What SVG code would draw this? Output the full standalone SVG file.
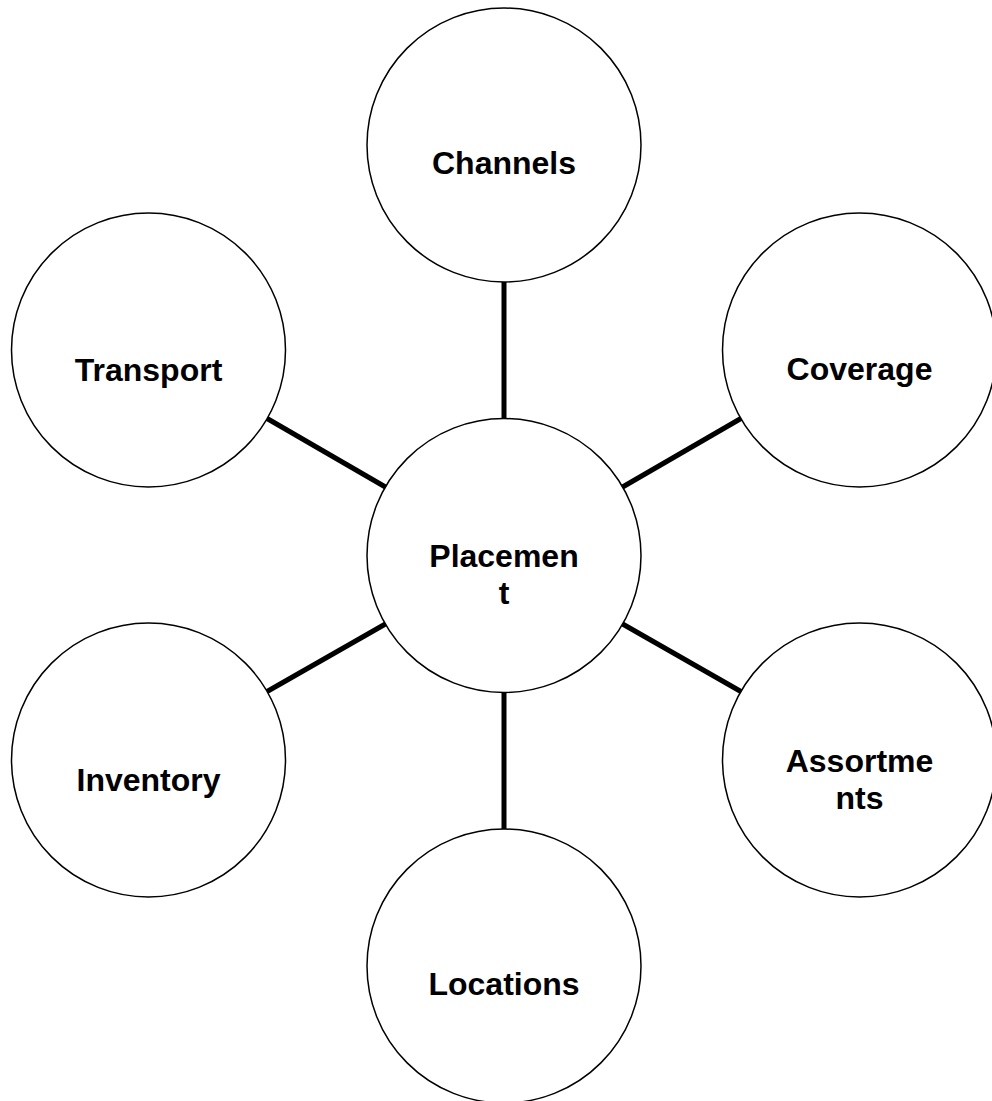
<svg xmlns="http://www.w3.org/2000/svg" width="992" height="1101" viewBox="0 0 992 1101">
<style>
.node circle{fill:#fff;stroke:#000;stroke-width:1.5}
.node text{font-family:"Liberation Sans",Arial,sans-serif;font-weight:bold;font-size:32px;fill:#000;text-anchor:middle}
#connectors line{stroke:#000;stroke-width:5}
</style>
<rect width="992" height="1101" fill="#fff"/>
<g id="connectors">
<line x1="504" y1="282" x2="504" y2="418.5"/>
<line x1="504" y1="692.5" x2="504" y2="829"/>
<line x1="267.1" y1="418.5" x2="385.4" y2="487"/>
<line x1="740.9" y1="418.5" x2="622.6" y2="487"/>
<line x1="267.1" y1="691.5" x2="385.4" y2="624"/>
<line x1="740.9" y1="691.5" x2="622.6" y2="624"/>
</g>
<g id="channels" class="node"><circle cx="504" cy="145" r="137"/><text x="504" y="174">Channels</text></g>
<g id="coverage" class="node"><circle cx="859.5" cy="350" r="137"/><text x="859.5" y="380">Coverage</text></g>
<g id="transport" class="node"><circle cx="148.5" cy="350" r="137"/><text x="148.5" y="381">Transport</text></g>
<g id="placement" class="node"><circle cx="504" cy="555.5" r="137"/><text x="504" y="567">Placemen</text><text x="504" y="603.5">t</text></g>
<g id="inventory" class="node"><circle cx="148.5" cy="760" r="137"/><text x="148.5" y="791">Inventory</text></g>
<g id="assortments" class="node"><circle cx="859.5" cy="760" r="137"/><text x="859.5" y="772">Assortme</text><text x="859.5" y="808.5">nts</text></g>
<g id="locations" class="node"><circle cx="504" cy="966" r="137"/><text x="504" y="995">Locations</text></g>
</svg>
